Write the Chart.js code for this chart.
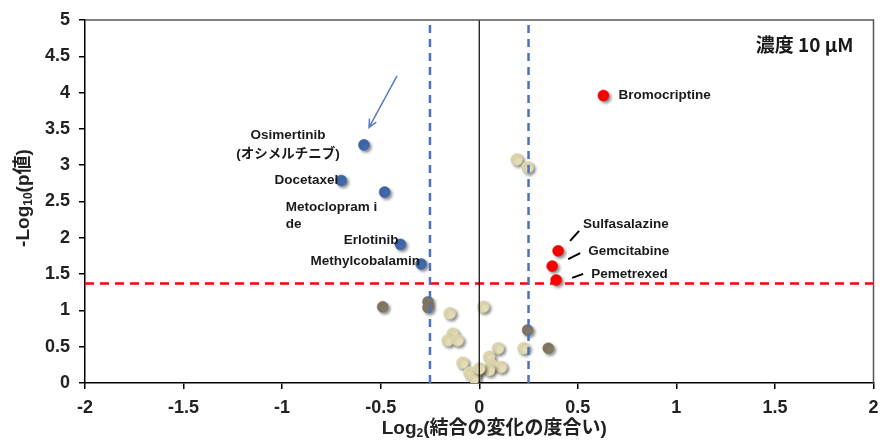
<!DOCTYPE html>
<html>
<head>
<meta charset="utf-8">
<script src="https://cdn.jsdelivr.net/npm/chart.js@4"></script>
<style>
  html, body { margin: 0; padding: 0; background: #fff; }
  #wrap { width: 880px; height: 446px; }
</style>
</head>
<body>
<div id="wrap"><canvas id="chart" width="880" height="446"></canvas></div>
<script>
// --- data ---
const blueNames = ['Osimertinib', 'Docetaxel', 'Metoclopramide', 'Erlotinib', 'Methylcobalamin'];
const blueX = [-0.585, -0.70, -0.48, -0.40, -0.295];
const blueY = [3.28, 2.79, 2.63, 1.91, 1.64];

const redNames = ['Bromocriptine', 'Sulfasalazine', 'Gemcitabine', 'Pemetrexed'];
const redX = [0.63, 0.40, 0.37, 0.39];
const redY = [3.96, 1.82, 1.61, 1.42];

const darkX = [-0.49, -0.26, -0.26, 0.245, 0.35];
const darkY = [1.05, 1.12, 1.04, 0.73, 0.48];

const beigeX = [0.19, 0.245, -0.15, 0.02, -0.135, -0.16, -0.11, 0.225, 0.095, -0.085,
                0.05, 0.065, 0.11, 0.05, -0.05, -0.015, -0.025, 0.0];
const beigeY = [3.08, 2.97, 0.96, 1.05, 0.68, 0.59, 0.59, 0.48, 0.48, 0.28,
                0.36, 0.25, 0.22, 0.18, 0.14, 0.15, 0.07, 0.20];

const pThreshold = 1.37;
const foldThreshold = 0.25;
const xTicks = [-2, -1.5, -1, -0.5, 0, 0.5, 1, 1.5, 2];
const yTicks = [0, 0.5, 1, 1.5, 2, 2.5, 3, 3.5, 4, 4.5, 5];
const arrowFrom = { x: -0.417, y: 4.23 };
const arrowTo = { x: -0.559, y: 3.52 };

// label layout (pixel offsets from each point)
const blueLabels = [
  { lines: ['Osimertinib', '(オシメルチニブ)'], dx: -76, dy: [-10, 9], align: 'center' },
  { lines: ['Docetaxel'], dx: -3, dy: [0], align: 'right' },
  { lines: ['Metoclopram i', 'de'], dx: -99, dy: [15, 32], align: 'left' },
  { lines: ['Erlotinib'], dx: -2, dy: [-4], align: 'right' },
  { lines: ['Methylcobalamin'], dx: -1, dy: [-3], align: 'right' }
];
const redLabels = [
  { dx: 15, dy: 0, lead: null },
  { dx: 25, dy: -27, lead: [12, -10, 21, -20] },
  { dx: 36, dy: -15, lead: [16, -7, 28, -13] },
  { dx: 35, dy: -6, lead: [16, -2, 27, -6] }
];

const pts = (xs, ys) => xs.map((x, i) => ({ x: x, y: ys[i] }));
const baseFont = '"Liberation Sans", "Noto Sans CJK JP", sans-serif';

const shadowPlugin = {
  id: 'shadow',
  beforeDatasetDraw(chart, args) {
    const ctx = chart.ctx;
    ctx.save();
    if (!args.meta._dataset.isLine) {
      ctx.shadowColor = 'rgba(0,0,0,0.45)';
      ctx.shadowBlur = 3;
      ctx.shadowOffsetX = 2;
      ctx.shadowOffsetY = 2;
    }
  },
  afterDatasetDraw(chart) {
    chart.ctx.restore();
  }
};

// draws "main" + subscript + "rest", centred on (0,0) of current transform
function subTitle(ctx, main, sub, rest, size) {
  const big = 'bold ' + size + 'px ' + baseFont;
  const small = 'bold ' + Math.round(size * 0.62) + 'px ' + baseFont;
  ctx.font = big; const w1 = ctx.measureText(main).width;
  ctx.font = small; const w2 = ctx.measureText(sub).width;
  ctx.font = big; const w3 = ctx.measureText(rest).width;
  let x = -(w1 + w2 + w3) / 2;
  ctx.textAlign = 'left';
  ctx.textBaseline = 'alphabetic';
  ctx.font = big; ctx.fillText(main, x, size * 0.35); x += w1;
  ctx.font = small; ctx.fillText(sub, x, size * 0.55); x += w2;
  ctx.font = big; ctx.fillText(rest, x, size * 0.35);
}

const labelPlugin = {
  id: 'labels',
  afterDatasetsDraw(chart) {
    const ctx = chart.ctx;
    const xs = chart.scales.x, ys = chart.scales.y;
    const a = chart.chartArea;
    ctx.save();
    ctx.fillStyle = '#1a1a1a';
    ctx.textBaseline = 'middle';
    ctx.font = 'bold 13.5px ' + baseFont;
    blueLabels.forEach((l, i) => {
      const px = xs.getPixelForValue(blueX[i]);
      const py = ys.getPixelForValue(blueY[i]);
      ctx.textAlign = l.align;
      l.lines.forEach((t, j) => ctx.fillText(t, px + l.dx, py + l.dy[j]));
    });
    redLabels.forEach((l, i) => {
      const px = xs.getPixelForValue(redX[i]);
      const py = ys.getPixelForValue(redY[i]);
      ctx.textAlign = 'left';
      ctx.fillText(redNames[i], px + l.dx, py + l.dy);
      if (l.lead) {
        ctx.strokeStyle = '#000';
        ctx.lineWidth = 2;
        ctx.beginPath();
        ctx.moveTo(px + l.lead[0], py + l.lead[1]);
        ctx.lineTo(px + l.lead[2], py + l.lead[3]);
        ctx.stroke();
      }
    });
    // concentration note
    ctx.font = 'bold 19px "Noto Sans CJK JP", sans-serif';
    ctx.textAlign = 'right';
    ctx.fillText('濃度 10 μM', a.right - 20, a.top + 25);
    // arrow
    const x1 = xs.getPixelForValue(arrowFrom.x), y1 = ys.getPixelForValue(arrowFrom.y);
    const x2 = xs.getPixelForValue(arrowTo.x), y2 = ys.getPixelForValue(arrowTo.y);
    const ang = Math.atan2(y2 - y1, x2 - x1);
    ctx.strokeStyle = '#5a7dbf';
    ctx.lineWidth = 1.5;
    ctx.beginPath();
    ctx.moveTo(x1, y1);
    ctx.lineTo(x2, y2);
    ctx.moveTo(x2 - 9 * Math.cos(ang - 0.45), y2 - 9 * Math.sin(ang - 0.45));
    ctx.lineTo(x2, y2);
    ctx.lineTo(x2 - 9 * Math.cos(ang + 0.45), y2 - 9 * Math.sin(ang + 0.45));
    ctx.stroke();
    // top and right frame
    ctx.strokeStyle = '#555';
    ctx.lineWidth = 1.5;
    ctx.beginPath();
    ctx.moveTo(a.left, a.top);
    ctx.lineTo(a.right, a.top);
    ctx.lineTo(a.right, a.bottom);
    ctx.stroke();
    // axis titles
    ctx.fillStyle = '#222';
    ctx.save();
    ctx.translate(a.left + 15 + (a.right - a.left) / 2, 427);
    subTitle(ctx, 'Log', '2', '(結合の変化の度合い)', 19);
    ctx.restore();
    ctx.save();
    ctx.translate(22, 198);
    ctx.rotate(-Math.PI / 2);
    subTitle(ctx, '-Log', '10', '(p値)', 19);
    ctx.restore();
    ctx.restore();
  }
};

const lineSet = (data, color, dash, width) => ({
  isLine: true, data: data, showLine: true, borderColor: color,
  borderDash: dash, borderWidth: width, pointRadius: 0, pointHoverRadius: 0, fill: false
});

const tickFont = { family: baseFont, size: 18, weight: 'bold' };

new Chart(document.getElementById('chart'), {
  type: 'scatter',
  data: {
    datasets: [
      lineSet([{ x: 0, y: 0 }, { x: 0, y: 5 }], '#000', [], 1.2),
      lineSet([{ x: -foldThreshold, y: 0 }, { x: -foldThreshold, y: 5 }], '#4a72c0', [8, 6], 2.5),
      lineSet([{ x: foldThreshold, y: 0 }, { x: foldThreshold, y: 5 }], '#4a72c0', [8, 6], 2.5),
      lineSet([{ x: -2, y: pThreshold }, { x: 2, y: pThreshold }], '#ff0000', [9, 6], 2.5),
      { data: pts(beigeX, beigeY), backgroundColor: '#e3dcb4', borderColor: '#d8d0a4', borderWidth: 0.5, pointRadius: 6 },
      { data: pts(darkX, darkY), backgroundColor: '#847964', borderColor: '#7a6f5a', borderWidth: 0.5, pointRadius: 5.5 },
      { data: pts(blueX, blueY), backgroundColor: '#4169ad', borderColor: '#3a609f', borderWidth: 0.5, pointRadius: 5.5 },
      { data: pts(redX, redY), backgroundColor: '#ff0000', borderColor: '#ee0000', borderWidth: 0.5, pointRadius: 5.5 }
    ]
  },
  options: {
    responsive: false, animation: false,
    layout: { padding: { top: 20, right: 2, left: 0, bottom: 0 } },
    plugins: { legend: { display: false }, tooltip: { enabled: false } },
    scales: {
      x: {
        type: 'linear', min: -2, max: 2,
        afterBuildTicks: s => { s.ticks = xTicks.map(v => ({ value: v })); },
        afterFit: s => { s.height = 63; s.paddingLeft = 0; s.paddingRight = 6; },
        grid: { drawOnChartArea: false, tickLength: 6, color: '#000', lineWidth: 1.5 },
        border: { color: '#000', width: 1.5 },
        ticks: { color: '#222', padding: 8, font: tickFont, maxRotation: 0, callback: v => String(v) }
      },
      y: {
        type: 'linear', min: 0, max: 5,
        afterBuildTicks: s => { s.ticks = yTicks.map(v => ({ value: v })); },
        afterFit: s => { s.width = 85; s.paddingTop = 0; s.paddingBottom = 0; },
        grid: { drawOnChartArea: false, tickLength: 6, color: '#000', lineWidth: 1.5 },
        border: { color: '#000', width: 1.5 },
        ticks: { color: '#222', padding: 9, font: tickFont, callback: v => String(v) }
      }
    }
  },
  plugins: [shadowPlugin, labelPlugin]
});
</script>
</body>
</html>
